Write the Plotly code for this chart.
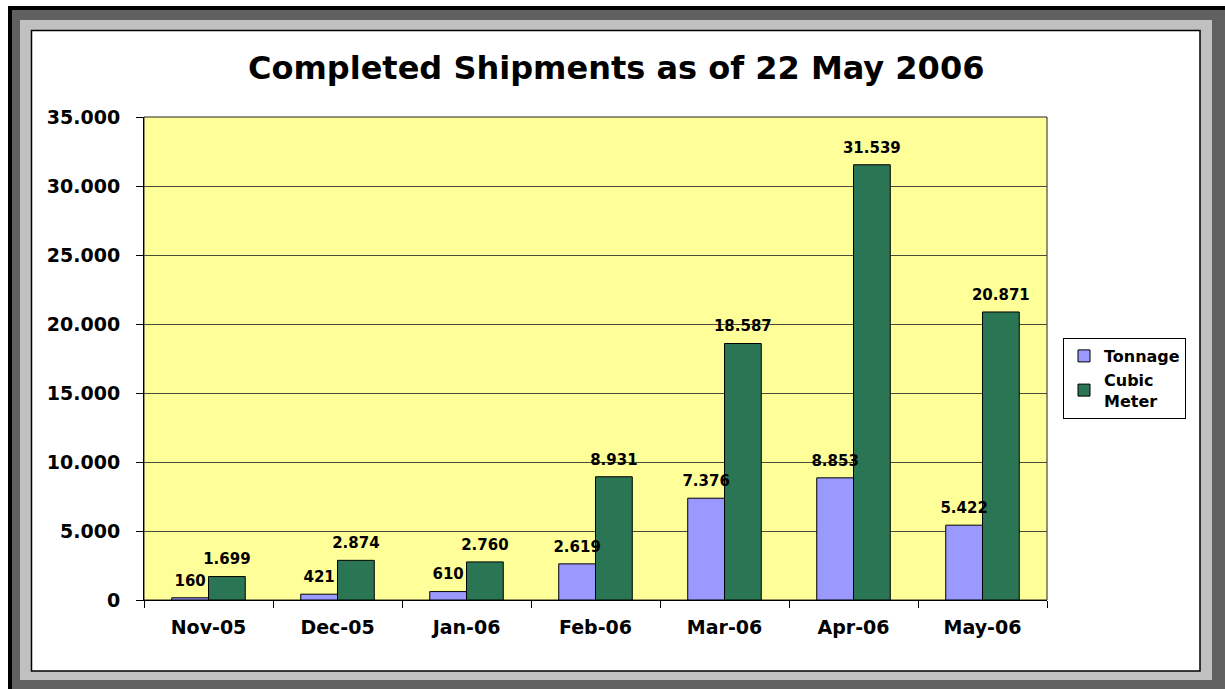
import plotly.graph_objects as go

months = ["Nov-05", "Dec-05", "Jan-06", "Feb-06", "Mar-06", "Apr-06", "May-06"]
tonnage = [160, 421, 610, 2619, 7376, 8853, 5422]
cubic_meter = [1699, 2874, 2760, 8931, 18587, 31539, 20871]
y_ticks = [0, 5000, 10000, 15000, 20000, 25000, 30000, 35000]

W, H = 1225, 689
L, R, T, B = 144, 1047, 117, 600
PW, PH = R - L, B - T


def px(x):
    return (x - L) / PW


def py(y):
    return (B - y) / PH


def fmt(v):
    return f"{v:,}".replace(",", ".")


FONT = "DejaVu Sans"
LABEL_FONT = dict(family=FONT, size=15, color="#000000", weight="bold")

fig = go.Figure()
fig.add_trace(go.Bar(
    name="Tonnage", x=months, y=tonnage, offsetgroup="t",
    marker=dict(color="#9999ff", line=dict(color="#000000", width=1)),
))
fig.add_trace(go.Bar(
    name="Cubic<br>Meter", x=months, y=cubic_meter, offsetgroup="c",
    marker=dict(color="#2a7553", line=dict(color="#000000", width=1)),
))
for vals, grp in ((tonnage, "t"), (cubic_meter, "c")):
    fig.add_trace(go.Scatter(
        x=months, y=vals, offsetgroup=grp, mode="markers+text",
        marker=dict(size=12, opacity=0),
        text=[fmt(v) for v in vals], textposition="top center",
        textfont=LABEL_FONT, showlegend=False, cliponaxis=False,
        hoverinfo="skip",
    ))

shapes = [
    dict(type="rect", xref="paper", yref="paper", layer="below",
         x0=px(10), x1=px(1228), y0=py(8), y1=py(692),
         fillcolor="#606060", line=dict(color="#000000", width=4)),
    dict(type="rect", xref="paper", yref="paper", layer="below",
         x0=px(20), x1=px(1212), y0=py(20), y1=py(680),
         fillcolor="#c0c0c0", line=dict(width=0)),
    dict(type="rect", xref="paper", yref="paper", layer="below",
         x0=px(31.5), x1=px(1200), y0=py(30.5), y1=py(671),
         fillcolor="#ffffff", line=dict(color="#000000", width=1.5)),
    dict(type="rect", xref="paper", yref="paper", layer="below",
         x0=0, x1=1, y0=0, y1=1,
         fillcolor="#ffff99", line=dict(color="#222222", width=1)),
]

fig.update_layout(
    width=W, height=H,
    margin=dict(l=L, r=W - R, t=T, b=H - B),
    paper_bgcolor="#ffffff",
    plot_bgcolor="#ffff99",
    separators=",.",
    barmode="group", bargap=0.43, bargroupgap=0,
    scattermode="group", scattergap=0.43,
    shapes=shapes,
    title=dict(text="<b>Completed Shipments as of 22 May 2006</b>",
               x=0.503, xref="container", xanchor="center",
               y=1 - 68 / H, yref="container", yanchor="middle",
               font=dict(family=FONT, size=32, color="#000000")),
    font=dict(family=FONT, color="#000000"),
    legend=dict(x=px(1063), y=py(338), xanchor="left", yanchor="top",
                bgcolor="#ffffff", bordercolor="#000000", borderwidth=1,
                font=dict(family=FONT, size=16, color="#000000", weight="bold"),
                itemwidth=30, tracegroupgap=6),
    showlegend=True,
)
fig.update_xaxes(
    type="category", showline=True, linecolor="#000000", linewidth=1,
    ticks="outside", tickson="boundaries", ticklen=7, tickcolor="#000000",
    tickfont=dict(family=FONT, size=19, color="#000000", weight="bold"),
    ticklabelstandoff=10, showgrid=False,
)
fig.update_yaxes(
    range=[0, 35000], tickvals=y_ticks, tickformat=",d",
    showline=True, linecolor="#000000", linewidth=1,
    ticks="outside", ticklen=7, tickcolor="#000000",
    tickfont=dict(family=FONT, size=19, color="#000000", weight="bold"),
    ticklabelstandoff=12,
    showgrid=True, gridcolor="#4a4a3a", gridwidth=1, zeroline=False,
)

fig.write_html("out.html", config={"displayModeBar": False},
               post_script="document.body.style.margin='0';")
